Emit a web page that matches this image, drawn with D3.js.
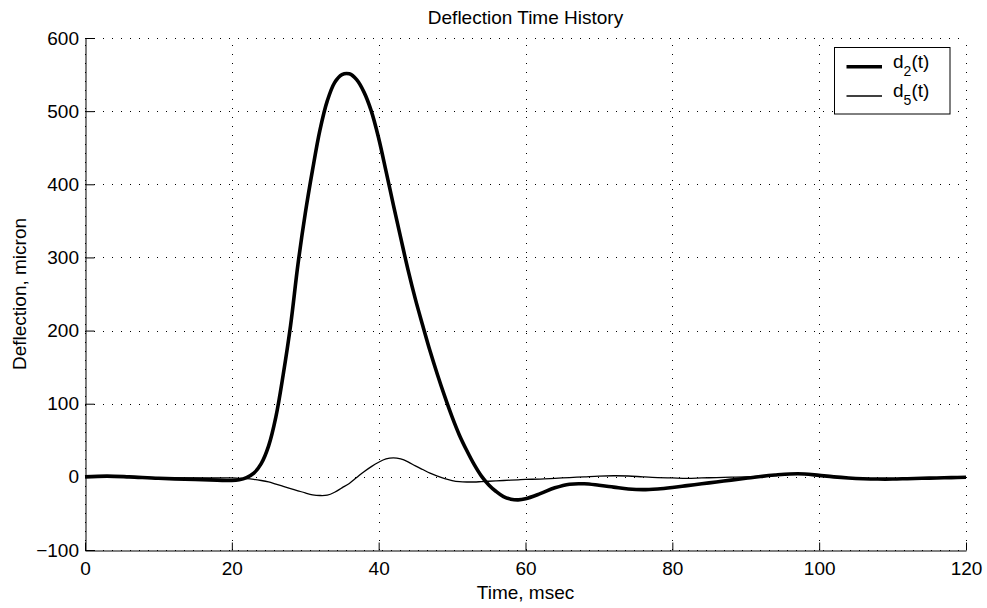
<!DOCTYPE html>
<html><head><meta charset="utf-8">
<script src="https://cdn.jsdelivr.net/npm/d3@7/dist/d3.min.js"></script>
<style>
body{margin:0;background:#fff;}
text{font-family:"Liberation Sans",Arial,Helvetica,sans-serif;fill:#000;}
</style></head>
<body><svg id="chart" width="987" height="608"></svg>
<script>
const time = [0,3,6,10,15,18,20,21,22,23,24,25,26,27,28,29,30,31,32,33,34,35,36,37,38,39,40,41,42,43,44,45,46,47,48,49,50,51,52,53,54,55,56,57,58,59,60,62,64,66,68,70,72,74,76,78,80,82,84,86,88,90,92,94,96,98,100,102,104,106,108,110,112,114,116,118,120];
const d2 = [0,1,0,-2,-3.5,-4.5,-5,-4,-1,5,18,42,82,140,207,290,360,420,474,514,539,550,551,543,526,500,463,418,372,327,283,243,207,172,140,110,82,57,36,17,1,-11,-20,-27,-30.5,-31.5,-30,-23,-15,-10,-9.5,-11.5,-14,-16.5,-17.5,-16.5,-14.5,-12,-9.5,-7,-4.5,-2,0.5,2.5,4,4,2,0,-1.5,-2.5,-3,-3,-2.5,-2,-1.5,-1,-0.5];
const d5 = [0,0.5,0,-1,-1.5,-1.5,-1.5,-2,-2.5,-3.5,-5,-7,-10,-13,-16,-19,-22,-24.5,-25.5,-25,-21,-15,-9,-1,7,14,20,24.5,26,24.5,20.5,15,10,5,1,-2.5,-5,-6.5,-7,-7,-6.5,-6,-5.5,-5,-4.5,-4,-3.5,-3,-2,-1,0,1,1.5,1.2,0,-1,-1.5,-2,-1.5,-1,-0.5,0,1,2.5,3.5,3.5,2,0.5,-1,-2,-2.5,-2.5,-2,-1.5,-1,-0.5,0];
const xTicks = [0,20,40,60,80,100,120];
const yTicks = [-100,0,100,200,300,400,500,600];
const seriesNames = ["d","d"];
const seriesSubs = ["2","5"];

const svg = d3.select("#chart");
const L = 85, R = 966, T = 38, B = 550;
const x = d3.scaleLinear().domain([0,120]).range([L,R]);
const y = d3.scaleLinear().domain([-100,600]).range([B,T]);

// grid
const grid = svg.append("g").attr("stroke","#000").attr("stroke-width",1).attr("stroke-dasharray","1,8");
grid.selectAll(".gx").data(xTicks).enter().append("line")
  .attr("x1",d=>Math.round(x(d))+0.5).attr("x2",d=>Math.round(x(d))+0.5)
  .attr("y1",B).attr("y2",T);
grid.selectAll(".gy").data(yTicks).enter().append("line")
  .attr("y1",d=>Math.round(y(d))+0.5).attr("y2",d=>Math.round(y(d))+0.5)
  .attr("x1",L).attr("x2",R);

// axes
const xAxis = d3.axisBottom(x).tickValues(xTicks).tickSizeInner(-8).tickSizeOuter(0).tickPadding(11);
const yAxis = d3.axisLeft(y).tickValues(yTicks).tickSizeInner(-9).tickSizeOuter(0).tickPadding(6.5);
const gx = svg.append("g").attr("transform",`translate(0,${Math.round(B)+0.5})`).call(xAxis);
const gy = svg.append("g").attr("transform",`translate(${Math.round(L)+0.5},0)`).call(yAxis);
[gx,gy].forEach(g=>{
  g.selectAll("path").attr("stroke","#000");
  g.selectAll("line").attr("stroke","#000");
  g.selectAll("text").attr("font-size","19px").attr("font-family","'Liberation Sans',Arial,sans-serif");
});
gy.selectAll("text").text(d=>d<0?"\u2212"+Math.abs(d):d);

// lines
const line = d3.line().x((d,i)=>x(time[i])).y(d=>y(d)).curve(d3.curveCatmullRom.alpha(0.5));
svg.append("path").datum(d5).attr("d",line).attr("fill","none").attr("stroke","#000").attr("stroke-width",1.3);
svg.append("path").datum(d2).attr("d",line).attr("fill","none").attr("stroke","#000").attr("stroke-width",3.6).attr("stroke-linejoin","round");

// title & labels
svg.append("text").attr("x",(L+R)/2).attr("y",24).attr("text-anchor","middle").attr("font-size","19px").text("Deflection Time History");
svg.append("text").attr("x",(L+R)/2).attr("y",599).attr("text-anchor","middle").attr("font-size","19px").text("Time, msec");
svg.append("text").attr("transform",`translate(26,${(T+B)/2}) rotate(-90)`).attr("text-anchor","middle").attr("font-size","19px").text("Deflection, micron");

// legend
const lg = svg.append("g");
lg.append("rect").attr("x",834.5).attr("y",47.5).attr("width",115.5).attr("height",66.5).attr("fill","#fff").attr("stroke","#000").attr("stroke-width",1);
const widths = [3.6,1.3];
const ly = [66.7,96];
seriesNames.forEach((n,i)=>{
  lg.append("line").attr("x1",846.5).attr("x2",882).attr("y1",ly[i]).attr("y2",ly[i]).attr("stroke","#000").attr("stroke-width",widths[i]);
  const t = lg.append("text").attr("x",893).attr("y",ly[i]+1).attr("font-size","19px");
  t.append("tspan").text(n);
  t.append("tspan").attr("dy",8).attr("font-size","14px").text(seriesSubs[i]);
  t.append("tspan").attr("dy",-8).text("(t)");
});
</script></body></html>
